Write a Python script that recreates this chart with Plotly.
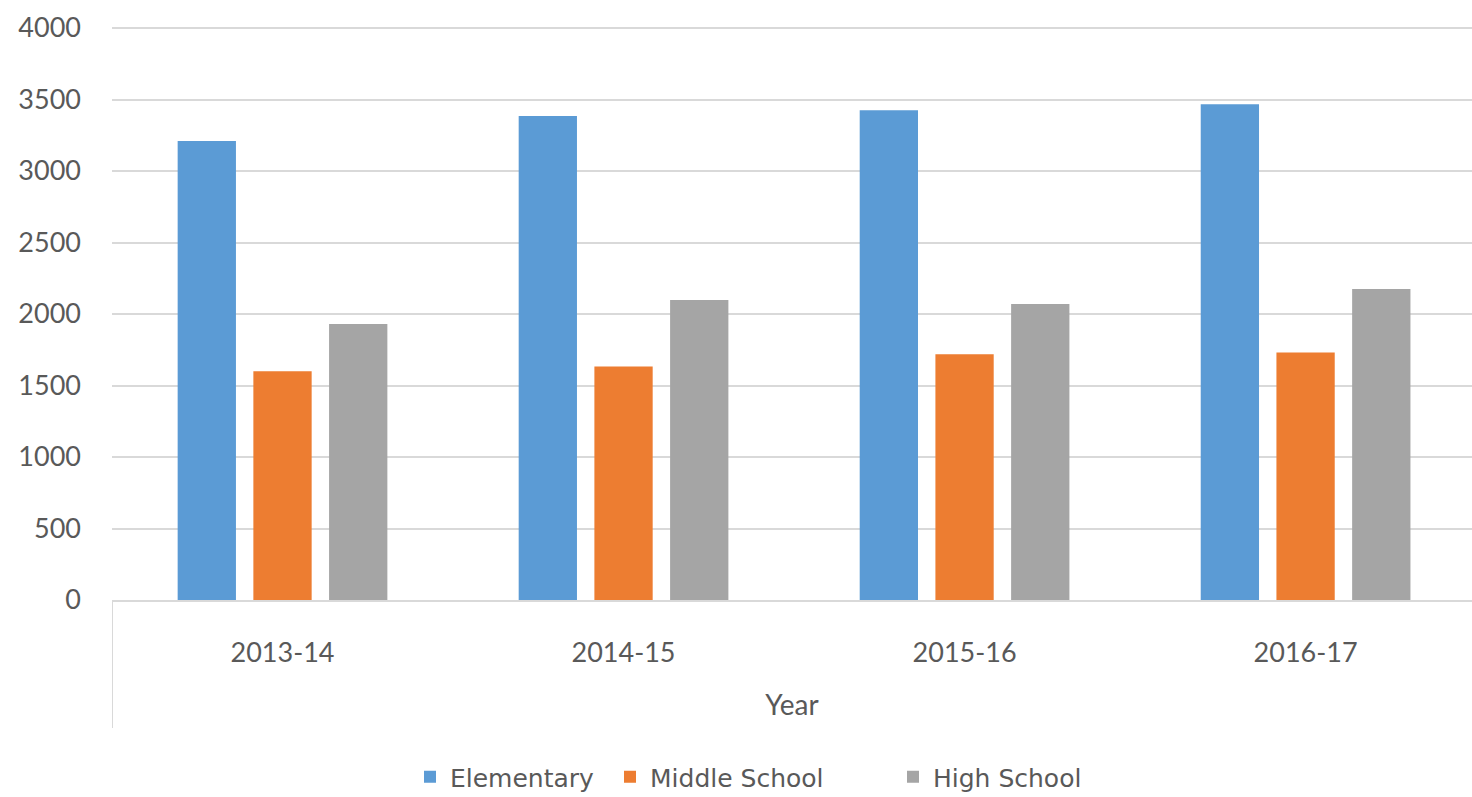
import plotly.graph_objects as go

years = ["2013-14", "2014-15", "2015-16", "2016-17"]
elementary = [3210, 3385, 3425, 3466]
middle_school = [1600, 1632, 1718, 1730]
high_school = [1930, 2098, 2070, 2175]
y_ticks = [0, 500, 1000, 1500, 2000, 2500, 3000, 3500, 4000]

FONT = "Lato, 'Open Sans', 'Liberation Sans', sans-serif"
LFONT = "'DejaVu Sans', Lato, sans-serif"
TXT = "#595959"

fig = go.Figure()
fig.add_trace(go.Bar(x=years, y=elementary, name="Elementary", legend="legend",
                     marker=dict(color="#5B9BD5", line=dict(width=0))))
fig.add_trace(go.Bar(x=years, y=middle_school, name="Middle School", legend="legend2",
                     marker=dict(color="#ED7D31", line=dict(width=0))))
fig.add_trace(go.Bar(x=years, y=high_school, name="High School", legend="legend3",
                     marker=dict(color="#A5A5A5", line=dict(width=0))))

W, H = 1472, 797
left, top, bottom = 112, 26, 600
ppu = (600 - 28) / 4000.0
ymax = 4000 + (28 - top) / ppu


def leg(text_x):
    return dict(orientation="h", xref="container", x=(text_x - 42) / W, xanchor="left",
                yref="container", y=1 - 777 / H, yanchor="middle",
                font=dict(family=LFONT, size=25, color=TXT), bgcolor="rgba(0,0,0,0)")


fig.update_layout(
    width=W, height=H,
    margin=dict(l=left, r=0, t=top, b=H - bottom, autoexpand=False),
    paper_bgcolor="white", plot_bgcolor="white",
    barmode="group", bargap=0.334, bargroupgap=0.23,
    font=dict(family=FONT, size=27, color=TXT),
    showlegend=True,
    legend=leg(452), legend2=leg(652), legend3=leg(935),
)
fig.update_xaxes(
    type="category", range=[-0.5, 3.488],
    showline=True, linecolor="#D9D9D9", linewidth=2,
    showgrid=False, ticks="", ticklabelstandoff=28,
    tickfont=dict(size=27, color=TXT),
    title=dict(text="Year", font=dict(size=28, color=TXT), standoff=28),
    zeroline=False,
)
fig.update_yaxes(
    range=[0, ymax], tickvals=y_ticks,
    showgrid=True, gridcolor="#D9D9D9", gridwidth=2,
    showline=False, zeroline=False, ticks="",
    ticklabelstandoff=30,
    tickfont=dict(size=27, color=TXT),
)
fig.add_shape(type="line", xref="x", yref="paper", x0=-0.5, x1=-0.5, y0=0,
              y1=-(728 - bottom) / (bottom - top), line=dict(color="#D9D9D9", width=2))

fig.write_html("out.html")
